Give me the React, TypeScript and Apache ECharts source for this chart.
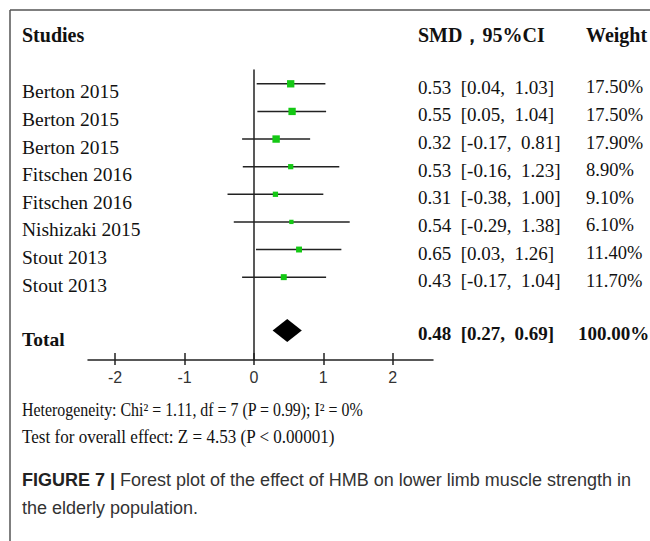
import React, { useEffect, useRef } from "react";
import * as echarts from "echarts";

const studies = ["Berton 2015", "Berton 2015", "Berton 2015", "Fitschen 2016", "Fitschen 2016", "Nishizaki 2015", "Stout 2013", "Stout 2013"];
const smd = [0.53, 0.55, 0.32, 0.53, 0.31, 0.54, 0.65, 0.43];
const lower = [0.04, 0.05, -0.17, -0.16, -0.38, -0.29, 0.03, -0.17];
const upper = [1.03, 1.04, 0.81, 1.23, 1.0, 1.38, 1.26, 1.04];
const weights = [17.5, 17.5, 17.9, 8.9, 9.1, 6.1, 11.4, 11.7];
const totalSmd = 0.48;
const totalLower = 0.27;
const totalUpper = 0.69;
const totalWeight = 100.0;
const tickValues = [-2, -1, 0, 1, 2];
const heterogeneityText = "Heterogeneity: Chi² = 1.11, df = 7 (P = 0.99); I² = 0%";
const overallText = "Test for overall effect: Z = 4.53 (P < 0.00001)";
const captionBold = "FIGURE 7 |";
const captionLine1 = " Forest plot of the effect of HMB on lower limb muscle strength in";
const captionLine2 = "the elderly population.";

const SERIF = "'Liberation Serif', 'Times New Roman', serif";
const SANS = "'Liberation Sans', Arial, sans-serif";
const TOTAL_ROW = 9;
const SP = "\u2002";

const fmt = (v: number) => v.toFixed(2);
const ciText = (m: number, l: number, h: number) => `${fmt(m)}${SP}[${fmt(l)},${SP}${fmt(h)}]`;

export default function App() {
  const ref = useRef<HTMLDivElement>(null);
  useEffect(() => {
    if (!ref.current) return;
    const chart = echarts.init(ref.current, null, { renderer: "svg" });
    const rowIdx = studies.map((_, i) => [i]);

    const option: any = {
      animation: false,
      backgroundColor: "#fff",
      grid: { left: 88, right: 217, top: 70, bottom: 181 },
      xAxis: [
        {
          type: "value",
          min: -2.39,
          max: 2.58,
          position: "bottom",
          splitLine: { show: false },
          axisLine: { show: true, onZero: false, lineStyle: { color: "#222", width: 1.5 } },
          axisTick: { show: true, inside: true, length: 7, customValues: tickValues, lineStyle: { color: "#222", width: 1.5 } },
          axisLabel: { show: true, customValues: tickValues, fontFamily: SANS, fontSize: 16, color: "#333", margin: 9 },
        },
        {
          type: "value",
          min: -2.39,
          max: 2.58,
          position: "bottom",
          splitLine: { show: false },
          axisLine: { show: false, onZero: false },
          axisTick: { show: true, inside: false, length: 5, customValues: tickValues, lineStyle: { color: "#222", width: 1.5 } },
          axisLabel: { show: false },
        },
      ],
      yAxis: {
        type: "value",
        inverse: true,
        min: -0.5,
        max: 10,
        splitLine: { show: false },
        axisTick: { show: false },
        axisLabel: { show: false },
        axisLine: { show: true, onZero: true, onZeroAxisIndex: 0, lineStyle: { color: "#222", width: 1.5 } },
      },
      series: [
        {
          type: "custom",
          xAxisIndex: 0,
          clip: false,
          data: rowIdx,
          renderItem: (params: any, api: any) => {
            const i = api.value(0);
            const y = api.coord([0, i])[1];
            const xl = api.coord([lower[i], i])[0];
            const xh = api.coord([upper[i], i])[0];
            const xm = api.coord([smd[i], i])[0];
            const s = 1.75 * Math.sqrt(weights[i]);
            return {
              type: "group",
              children: [
                { type: "line", shape: { x1: xl, y1: y, x2: xh, y2: y }, style: { stroke: "#222", lineWidth: 1.5 } },
                { type: "rect", shape: { x: xm - s / 2, y: y - s / 2, width: s, height: s }, style: { fill: "#14c814" } },
                { type: "text", x: 22, y: y + 8, style: { text: studies[i], fontFamily: SERIF, fontSize: 19.5, fill: "#111", verticalAlign: "middle" } },
                { type: "text", x: 418, y: y + 3.5, style: { text: ciText(smd[i], lower[i], upper[i]), fontFamily: SERIF, fontSize: 19, fill: "#111", verticalAlign: "middle" } },
                { type: "text", x: 586, y: y + 3.5, style: { text: `${fmt(weights[i])}%`, fontFamily: SERIF, fontSize: 18.5, fill: "#111", verticalAlign: "middle" } },
              ],
            };
          },
        },
        {
          type: "custom",
          xAxisIndex: 0,
          clip: false,
          data: [[TOTAL_ROW]],
          renderItem: (params: any, api: any) => {
            const r = api.value(0);
            const y = api.coord([0, r])[1] - 2;
            const xl = api.coord([totalLower, r])[0];
            const xh = api.coord([totalUpper, r])[0];
            const xm = api.coord([totalSmd, r])[0];
            const h = 11.5;
            return {
              type: "group",
              children: [
                { type: "polygon", shape: { points: [[xl, y], [xm, y - h], [xh, y], [xm, y + h]] }, style: { fill: "#000" } },
                { type: "text", x: 22, y: y + 9, style: { text: "Total", fontFamily: SERIF, fontSize: 19.5, fontWeight: "bold", fill: "#111", verticalAlign: "middle" } },
                { type: "text", x: 418, y: y + 3, style: { text: ciText(totalSmd, totalLower, totalUpper), fontFamily: SERIF, fontSize: 19, fontWeight: "bold", fill: "#111", verticalAlign: "middle" } },
                { type: "text", x: 578, y: y + 3, style: { text: `${fmt(totalWeight)}%`, fontFamily: SERIF, fontSize: 19, fontWeight: "bold", fill: "#111", verticalAlign: "middle" } },
              ],
            };
          },
        },
      ],
      graphic: [
        { type: "line", shape: { x1: 10, y1: 10, x2: 650, y2: 10 }, style: { stroke: "#555", lineWidth: 1.5 } },
        { type: "line", shape: { x1: 10, y1: 10, x2: 10, y2: 541 }, style: { stroke: "#555", lineWidth: 1.5 } },
        { type: "text", x: 22, y: 35, style: { text: "Studies", fontFamily: SERIF, fontSize: 20, fontWeight: "bold", fill: "#111", verticalAlign: "middle" } },
        { type: "text", x: 418, y: 35, style: { text: "SMD，95%CI", fontFamily: SERIF, fontSize: 20, fontWeight: "bold", fill: "#111", verticalAlign: "middle" } },
        { type: "text", x: 586, y: 35, style: { text: "Weight", fontFamily: SERIF, fontSize: 20, fontWeight: "bold", fill: "#111", verticalAlign: "middle" } },
        { type: "text", x: 22, y: 410, scaleX: 0.86, style: { text: heterogeneityText, fontFamily: SERIF, fontSize: 18.5, fill: "#111", verticalAlign: "middle" } },
        { type: "text", x: 22, y: 437, scaleX: 0.923, style: { text: overallText, fontFamily: SERIF, fontSize: 18.5, fill: "#111", verticalAlign: "middle" } },
        {
          type: "text",
          x: 22,
          y: 480,
          style: {
            text: `{b|${captionBold}}{n|${captionLine1}}`,
            verticalAlign: "middle",
            rich: {
              b: { fontFamily: SANS, fontSize: 18, fontWeight: "bold", fill: "#222" },
              n: { fontFamily: SANS, fontSize: 18, fill: "#333" },
            },
          },
        },
        { type: "text", x: 22, y: 508, style: { text: captionLine2, fontFamily: SANS, fontSize: 18, fill: "#333", verticalAlign: "middle" } },
      ],
    };
    chart.setOption(option);
    return () => chart.dispose();
  }, []);
  return <div ref={ref} style={{ position: "fixed", left: 0, top: 0, width: 650, height: 541 }} />;
}
